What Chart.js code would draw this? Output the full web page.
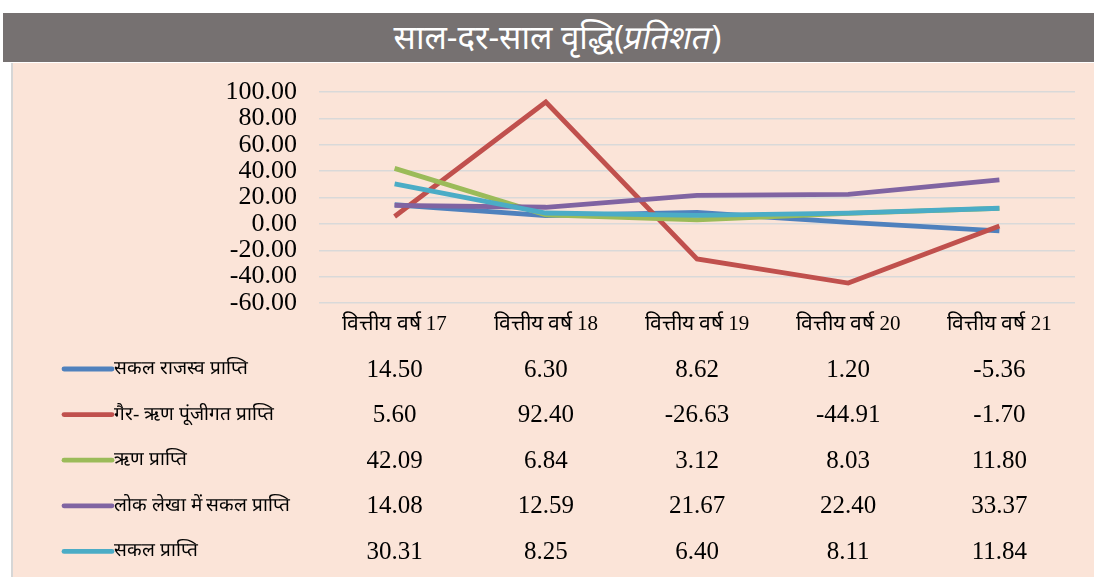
<!DOCTYPE html>
<html>
<head>
<meta charset="utf-8">
<script src="https://cdn.jsdelivr.net/npm/chart.js@4.4.0/dist/chart.umd.min.js"></script>
<style>
  body { margin: 0; background: #fff; width: 1094px; height: 577px; overflow: hidden; position: relative; }
  #title {
    position: absolute; left: 3px; top: 13px; width: 1073px; height: 49px; padding-left: 18px;
    background: #767171; color: #fff; text-align: center;
    font: 33px "Noto Sans", sans-serif; line-height: 48px;
  }
  #title i { font-style: normal; display: inline-block; transform: skewX(-12deg); }
  #panel {
    position: absolute; left: 11px; top: 63px; width: 1083px; height: 514px;
    background: #fbe4d8; border-left: 2px solid #d6d6d6;
  }
  #wrap { position: absolute; left: 13px; top: 57px; width: 1081px; height: 520px; }
</style>
</head>
<body>
<div id="title">साल-दर-साल  वृद्धि(<i>प्रतिशत</i>)</div>
<div id="panel"></div>
<div id="wrap"><canvas id="growth-chart"></canvas></div>
<script>
// fiscal years on the x axis
const years = ['वित्तीय वर्ष 17', 'वित्तीय वर्ष 18', 'वित्तीय वर्ष 19', 'वित्तीय वर्ष 20', 'वित्तीय वर्ष 21'];

const seriesNames = [
  'सकल राजस्व प्राप्ति',
  'गैर- ऋण पूंजीगत प्राप्ति',
  'ऋण प्राप्ति',
  'लोक लेखा में सकल प्राप्ति',
  'सकल प्राप्ति',
];

const grossRevenue = [14.5, 6.3, 8.62, 1.2, -5.36];
const nonDebtCapital = [5.6, 92.4, -26.63, -44.91, -1.7];
const debtReceipts = [42.09, 6.84, 3.12, 8.03, 11.8];
const publicAccount = [14.08, 12.59, 21.67, 22.4, 33.37];
const grossReceipts = [30.31, 8.25, 6.4, 8.11, 11.84];

const colors = ['#4f81bd', '#c0504d', '#9bbb59', '#8064a2', '#4bacc6'];

const serif = '"Liberation Serif", "Times New Roman", serif';

const allSeries = [grossRevenue, nonDebtCapital, debtReceipts, publicAccount, grossReceipts];

const datasets = allSeries.map((values, i) => ({
  label: seriesNames[i],
  data: values,
  borderColor: colors[i],
  backgroundColor: colors[i],
  borderWidth: 4.8,
  pointRadius: 0,
  tension: 0,
  order: allSeries.length - i, // later series on top, like the spreadsheet
}));

// data table under the chart, columns follow the x scale
const dataTable = {
  id: 'dataTable',
  afterDraw(chart) {
    const ctx = chart.ctx;
    const x = chart.scales.x;
    ctx.save();
    chart.data.datasets.forEach((ds, i) => {
      const y = 312 + i * 45.6;
      // legend key
      ctx.strokeStyle = ds.borderColor;
      ctx.lineWidth = 4.8;
      ctx.lineCap = 'round';
      ctx.beginPath();
      ctx.moveTo(51, y);
      ctx.lineTo(99, y);
      ctx.stroke();
      ctx.fillStyle = '#000';
      ctx.font = '19px ' + serif;
      ctx.textAlign = 'left';
      ctx.textBaseline = 'middle';
      ctx.fillText(ds.label, 101, y);
      // values
      ctx.font = '25px ' + serif;
      ctx.textAlign = 'center';
      ds.data.forEach((v, j) => {
        ctx.fillText(v.toFixed(2), x.getPixelForValue(j), y + 1);
      });
    });
    ctx.restore();
  },
};

const config = {
  type: 'line',
  data: { labels: years, datasets },
  options: {
    responsive: true,
    maintainAspectRatio: false,
    animation: false,
    layout: { padding: { top: 28, right: 19, bottom: 234, left: 0 } },
    scales: {
      x: {
        offset: true,
        grid: { display: false },
        border: { display: false },
        ticks: { color: '#000', font: { family: serif, size: 21 }, padding: 1, maxRotation: 0 },
        afterFit: scale => { scale.height = 40; },
      },
      y: {
        min: -60,
        max: 100,
        grid: { color: '#d9d9d9', lineWidth: 1.5, drawTicks: false },
        border: { display: false },
        ticks: {
          stepSize: 20,
          autoSkip: false,
          color: '#000',
          font: { family: serif, size: 26, lineHeight: 1 },
          padding: 22,
          callback: value => value.toFixed(2),
        },
        afterFit: scale => { scale.width = 306; },
      },
    },
    plugins: {
      legend: { display: false },
      tooltip: { enabled: false },
    },
  },
  plugins: [dataTable],
};

new Chart(document.querySelector('#growth-chart'), config);
</script>
</body>
</html>
